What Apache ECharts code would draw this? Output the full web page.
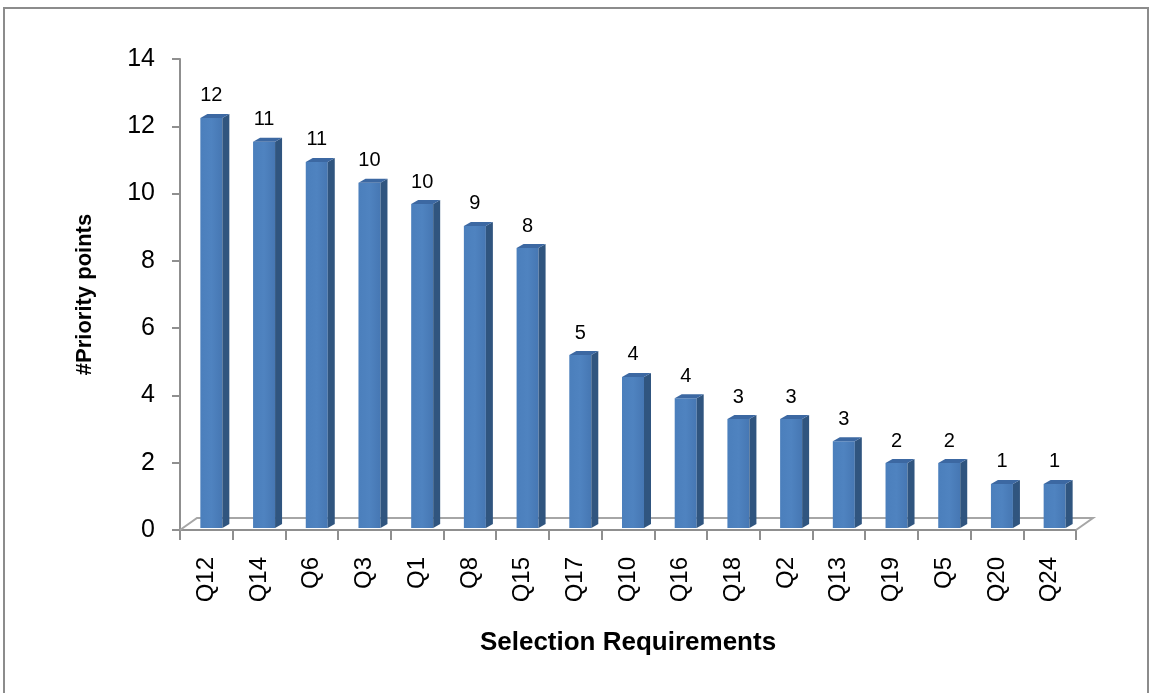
<!DOCTYPE html>
<html>
<head>
<meta charset="utf-8">
<title>Priority points</title>
<script src="https://cdn.jsdelivr.net/npm/echarts@6/dist/echarts.min.js"></script>
<style>
html,body{margin:0;padding:0;background:#fff;}
#chart{width:1153px;height:693px;}
</style>
</head>
<body>
<div id="chart"></div>
<script>
// data
var categories=['Q12','Q14','Q6','Q3','Q1','Q8','Q15','Q17','Q10','Q16','Q18','Q2','Q13','Q19','Q5','Q20','Q24'];
var points=[12.19,11.48,10.88,10.26,9.63,8.98,8.32,5.14,4.49,3.86,3.24,3.24,2.58,1.93,1.93,1.31,1.31];
var yMin=0,yMax=14,yStep=2;

var FONT='"Liberation Sans", Arial, sans-serif';
var AXIS_GRAY='#8f8f8f';

var chart=echarts.init(document.getElementById('chart'));

function renderBar(params,api){                          //3d-ish bar
    var i=api.value(0),v=api.value(1);
    var base=api.coord([i,0]),top=api.coord([i,v]);
    var bw=22,dx=7,dy=4,shift=5,lift=2;
    var x=base[0]+shift-bw/2,yb=base[1]-lift,yt=top[1]-lift;
    return {
        type:'group',
        children:[
            {type:'rect',shape:{x:x,y:yt,width:bw,height:yb-yt},
                style:{fill:new echarts.graphic.LinearGradient(0,0,1,0,[{offset:0,color:'#4b7fbc'},{offset:0.5,color:'#4f83c0'},{offset:1,color:'#4677b3'}])}},
            {type:'polygon',shape:{points:[[x+bw,yt],[x+bw+dx,yt-dy],[x+bw+dx,yb-dy],[x+bw,yb]]},
                style:{fill:'#30557f'}},
            {type:'polygon',shape:{points:[[x,yt],[x+dx,yt-dy],[x+bw+dx,yt-dy],[x+bw,yt]]},
                style:{fill:'#3c68a2'}},
            {type:'text',x:x+bw/2,y:yt-12,
                style:{text:String(Math.round(v)),font:'20px '+FONT,fill:'#000',align:'center',verticalAlign:'bottom'}}
        ]
    };
}

function renderFloor(params,api){                         //floor outline
    var cs=params.coordSys;
    var x0=cs.x,x1=cs.x+cs.width,y0=cs.y+cs.height;
    var ox=17,oy=12;
    return {
        type:'polyline',
        shape:{points:[[x0,y0],[x0+ox,y0-oy],[x1+ox,y0-oy],[x1,y0]]},
        style:{stroke:'#a6a6a6',lineWidth:2,fill:null}
    };
}

var option={
    animation:false,
    backgroundColor:'#fff',
    graphic:[{
        type:'rect',
        shape:{x:4,y:8,width:1144,height:700},
        style:{stroke:'#8c8c8c',lineWidth:2,fill:null},
        silent:true
    }],
    grid:{left:180,right:77,top:59,bottom:163,outerBoundsMode:'none'},
    xAxis:{
        type:'category',
        data:categories,
        boundaryGap:true,
        name:'Selection Requirements',
        nameLocation:'middle',
        nameGap:100,
        nameTextStyle:{fontFamily:FONT,fontWeight:'bold',fontSize:26,color:'#000'},
        axisLine:{lineStyle:{color:AXIS_GRAY,width:2}},
        axisTick:{show:true,interval:0,length:10,lineStyle:{color:AXIS_GRAY,width:2}},
        axisLabel:{interval:0,rotate:90,margin:27,fontFamily:FONT,fontSize:24,color:'#000'}
    },
    yAxis:{
        type:'value',
        min:yMin,max:yMax,interval:yStep,
        name:'#Priority points',
        nameLocation:'middle',
        nameGap:84,
        nameRotate:90,
        nameTextStyle:{fontFamily:FONT,fontWeight:'bold',fontSize:22,color:'#000'},
        axisLine:{show:true,lineStyle:{color:AXIS_GRAY,width:2}},
        axisTick:{show:true,length:8,lineStyle:{color:AXIS_GRAY,width:2}},
        axisLabel:{margin:25,fontFamily:FONT,fontSize:25,color:'#000'},
        splitLine:{show:false}
    },
    series:[
        {
            type:'custom',
            name:'floor',
            renderItem:renderFloor,
            data:[[0,0]],
            z:1,
            silent:true
        },
        {
            type:'custom',
            name:'Priority points',
            renderItem:renderBar,
            encode:{x:0,y:1},
            data:points.map(function(v,i){return [i,v];}),
            z:2
        }
    ]
};
chart.setOption(option);
</script>
</body>
</html>
